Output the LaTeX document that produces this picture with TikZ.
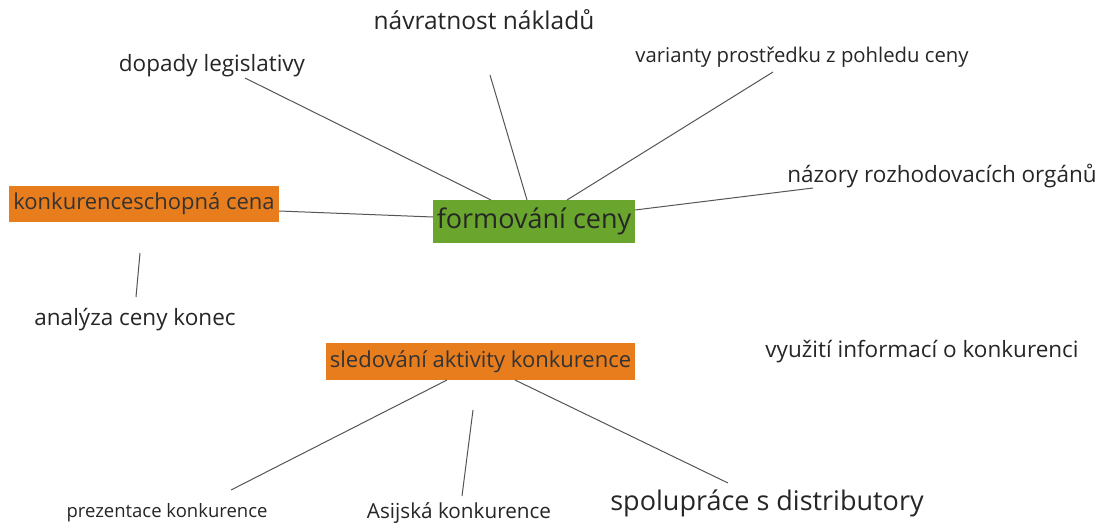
\documentclass[tikz,border=0pt]{standalone}
\usepackage{fontspec}
\setmainfont{Open Sans}
\begin{document}
\begin{tikzpicture}[x=1pt,y=-1pt,
  lbl/.style={font=\fontsize{22.5}{26}\selectfont, text=black!85, inner sep=0pt},
  fs/.style={font=\fontsize{#1}{#1}\selectfont},
  biglbl/.style={font=\fontsize{27}{31}\selectfont, text=black!85, inner sep=0pt},
  orangebox/.style={fill=boxorange, text=black!80, font=\fontsize{22}{26}\selectfont, inner sep=0pt},
  greenbox/.style={fill=boxgreen, text=black!85, font=\fontsize{27}{31}\selectfont, inner sep=0pt},
  link/.style={draw=linegray, line width=1pt}]
\definecolor{boxorange}{RGB}{232,125,30}
\definecolor{boxgreen}{RGB}{106,166,45}
\definecolor{linegray}{RGB}{85,85,85}
\useasboundingbox[fill=white] (0,0) rectangle (1103,524);

% central topic
\node[greenbox, minimum width=202pt, minimum height=43pt] (formovani) at (534,221.5) {formování ceny};

% orange subtopics
\node[orangebox, minimum width=270pt, minimum height=36pt] (konkurence) at (144,204) {konkurenceschopná cena};
\node[orangebox, minimum width=309pt, minimum height=37pt] (sledovani) at (480.5,361.5) {sledování aktivity konkurence};

% plain labels
\node[lbl] (dopady) at (212,66) {dopady legislativy};
\node[lbl, fs=24.5] (navratnost) at (484,20) {návratnost nákladů};
\node[lbl, fs=20.3] (varianty) at (802,57) {varianty prostředku z pohledu ceny};
\node[lbl] (nazory) at (942,176) {názory rozhodovacích orgánů};
\node[lbl] (analyza) at (135,320) {analýza ceny konec};
\node[lbl] (vyuziti) at (922,352) {využití informací o konkurenci};
\node[lbl, fs=18.5] (prezentace) at (167,513) {prezentace konkurence};
\node[lbl, fs=20.7] (asijska) at (459,513) {Asijská konkurence};
\node[biglbl] (spoluprace) at (767,503) {spolupráce s distributory};

% free ends of connectors
\coordinate (c1) at (245,78);
\coordinate (c2) at (491,200);
\coordinate (c3) at (490,75);
\coordinate (c4) at (527,200);
\coordinate (c5) at (773,72);
\coordinate (c6) at (567,200);
\coordinate (c7) at (813,188);
\coordinate (c8) at (635,210);
\coordinate (c9) at (279,211);
\coordinate (c10) at (433,217);
\coordinate (c11) at (140,253);
\coordinate (c12) at (136,297);
\coordinate (c13) at (447,380);
\coordinate (c14) at (231,490);
\coordinate (c15) at (473,410);
\coordinate (c16) at (462,496);
\coordinate (c17) at (515,380);
\coordinate (c18) at (728,483);

\draw[link] (c1) -- (c2);
\draw[link] (c3) -- (c4);
\draw[link] (c5) -- (c6);
\draw[link] (c7) -- (c8);
\draw[link] (c9) -- (c10);
\draw[link] (c11) -- (c12);
\draw[link] (c13) -- (c14);
\draw[link] (c15) -- (c16);
\draw[link] (c17) -- (c18);
\end{tikzpicture}
\end{document}
